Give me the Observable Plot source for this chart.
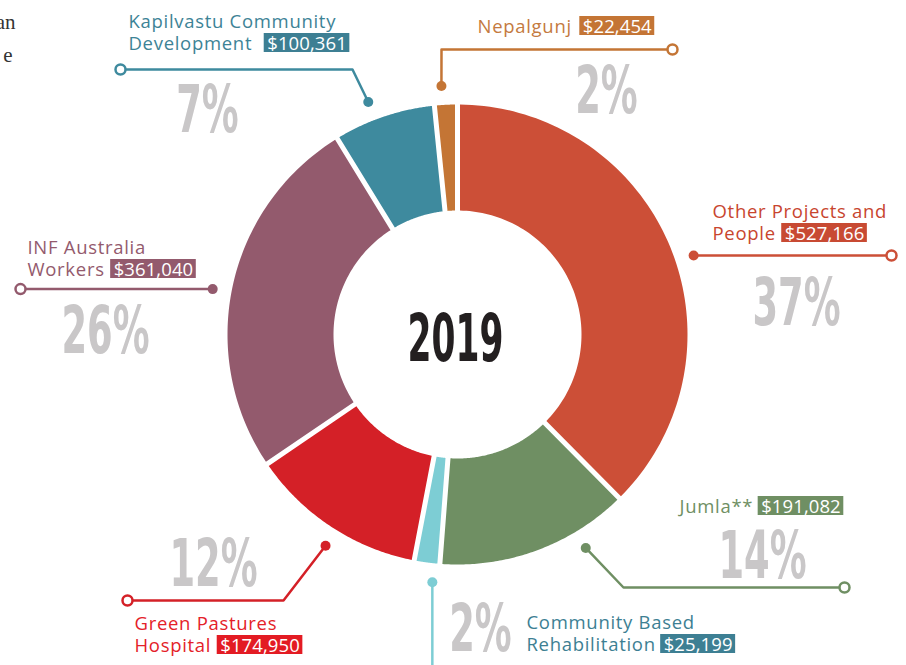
<!DOCTYPE html>
<html><head><meta charset="utf-8">
<style>
html,body{margin:0;padding:0;background:#fff;overflow:hidden;}
#chart{width:906px;height:665px;overflow:hidden;}
#chart g[font-family="Open Sans"]{letter-spacing:0.7px;}
#chart g[font-family="'Open Sans'"]{letter-spacing:0.1px;}
</style>
<script src="https://cdn.jsdelivr.net/npm/d3@7"></script>
<script src="https://cdn.jsdelivr.net/npm/@observablehq/plot@0.6"></script>
</head><body><div id="chart"></div>
<script>
// ---- data ----
const categories = ["Other Projects and People","Jumla**","Community Based Rehabilitation","Green Pastures Hospital","INF Australia Workers","Kapilvastu Community Development","Nepalgunj"];
const amounts = [527166,191082,25199,174950,361040,100361,22454];
const percentLabels = ["37%","14%","2%","12%","26%","7%","2%"];
const labelLines = [["Other Projects and","People"],["Jumla**"],["Community Based","Rehabilitation"],["Green Pastures","Hospital"],["INF Australia","Workers"],["Kapilvastu Community","Development"],["Nepalgunj"]];
const centerTitle = "2019";
const cropText = ["an","e"];

// ---- styles ----
const sliceColors = ["#cc4f37","#6f8f63","#7dcdd4","#d42027","#935a6d","#3e8a9e","#c47535"];
const labelColors = ["#c8452e","#6f8f63","#3d7f93","#e42128","#935a6d","#3d8396","#c47a40"];
const boxColors   = ["#c84a33","#6f8f63","#3d7f93","#e31b23","#935a6d","#3d7f93","#c47535"];

// ---- layout ----
const W=906, H=665, CX=457, CY=334, R_OUT=230, R_IN=124, GAP=5, DOT_R=249;
const FS=18.5, LS=0.7, LSV=0.1, LH=22;
const layout = [
 {lx:712, ly:217, px:796, py:324, dotAngle:71.5,  via:[],         end:[891,null], gap:9},
 {lx:679, ly:512, px:762, py:577, dotAngle:149,   via:[[623,587]], end:[844,587], gap:8},
 {lx:526, ly:628, px:480, py:650, dotAngle:185.8, via:[],         end:[null,720], gap:8, extra:[708,671]},
 {lx:134, ly:629, px:213, py:585, dotAngle:212,   via:[[283,600]], end:[127,600], gap:9},
 {lx:27,  ly:253, px:105, py:352, dotAngle:280.5, via:[],         end:[20,null],  gap:9},
 {lx:128, ly:27,  px:207, py:131, dotAngle:339,   via:[[352,69]],  end:[120,69],  gap:15},
 {lx:477, ly:32,  px:606, py:112, dotAngle:356.3, via:[[441,49]],  end:[672,49],  gap:11},
];

// ---- derived geometry ----
const total = d3.sum(amounts);
const rad = d => d*Math.PI/180;
const polar = (a, r) => ({x: CX + r*Math.sin(a), y: CY - r*Math.cos(a)});
const slicePts = [];
let acc = 0;
categories.forEach((name,i) => {
  const a0 = acc/total*2*Math.PI; acc += amounts[i]; const a1 = acc/total*2*Math.PI;
  const dO = Math.asin(GAP/2/R_OUT), dI = Math.asin(GAP/2/R_IN), N = 90;
  for (let k=0;k<=N;k++){ const a = a0+dO + (a1-a0-2*dO)*k/N; slicePts.push({name, ...polar(a,R_OUT)}); }
  for (let k=N;k>=0;k--){ const a = a0+dI + (a1-a0-2*dI)*k/N; slicePts.push({name, ...polar(a,R_IN)}); }
});

const leaderPts = [], dotPts = [], endPts = [];
categories.forEach((name,i) => {
  const L = layout[i];
  const d = polar(rad(L.dotAngle), DOT_R);
  dotPts.push({name, ...d});
  leaderPts.push({name, ...d});
  L.via.forEach(p => leaderPts.push({name, x:p[0], y:p[1]}));
  const last = leaderPts[leaderPts.length-1];
  const e = {name, x: L.end[0] ?? last.x, y: L.end[1] ?? last.y};
  leaderPts.push(e);
  if (e.y < H) endPts.push(e);
  if (L.extra) endPts.push({name, x:L.extra[0], y:L.extra[1]});
});

const ctx = document.createElement("canvas").getContext("2d");
ctx.font = `${FS}px "Open Sans"`;
const tw = (s, ls) => ctx.measureText(s).width + ls*s.length;
const fmt = d3.format("$,");

const lineText = [], boxes = [], valueText = [];
categories.forEach((name,i) => {
  const L = layout[i], lines = labelLines[i];
  lines.forEach((t,j) => lineText.push({t, x:L.lx, y:L.ly + j*LH, c:labelColors[i]}));
  const by = L.ly + (lines.length-1)*LH;
  const vx = L.lx + tw(lines[lines.length-1], LS) + L.gap;
  const v = fmt(amounts[i]);
  valueText.push({t:v, x:vx, y:by});
  boxes.push({x1:vx-3, x2:vx+tw(v, LSV)+3, y1:by-16, y2:by+3, c:boxColors[i]});
});
const pctText = percentLabels.map((t,i) => ({t, x:layout[i].px, y:layout[i].py}));

const chart = Plot.plot({
  width: W, height: H, margin: 0,
  x: {domain:[0,W], range:[0,W], axis:null},
  y: {domain:[0,H], range:[0,H], axis:null},
  color: {domain: categories, range: sliceColors},
  marks: [
    Plot.line(slicePts, {x:"x", y:"y", z:"name", fill:"name", stroke:"none", curve:"linear-closed"}),
    Plot.line(leaderPts, {x:"x", y:"y", z:"name", stroke:"name", strokeWidth:2.5}),
    Plot.dot(dotPts, {x:"x", y:"y", r:5, fill:"name", stroke:"none"}),
    Plot.dot(endPts, {x:"x", y:"y", r:5, fill:"white", stroke:"name", strokeWidth:2.5}),
    Plot.text(pctText, {x:"x", y:"y", text:"t", fontFamily:"DejaVu Sans Condensed", fontWeight:"bold", fontSize:66, fill:"#c9c7c8", textAnchor:"middle", lineAnchor:"bottom"}),
    Plot.text([{t:centerTitle, x:CX-2, y:360}], {x:"x", y:"y", text:"t", fontFamily:"DejaVu Sans Condensed", fontWeight:"bold", fontSize:66, fill:"#231f20", textAnchor:"middle", lineAnchor:"bottom"}),
    Plot.rect(boxes, {x1:"x1", x2:"x2", y1:"y1", y2:"y2", fill:d=>d.c}),
    Plot.text(lineText, {x:"x", y:"y", text:"t", fill:d=>d.c, fontFamily:"Open Sans", fontSize:FS, textAnchor:"start", lineAnchor:"bottom"}),
    Plot.text(valueText, {x:"x", y:"y", text:"t", fill:"white", fontFamily:"'Open Sans'", fontSize:FS, textAnchor:"start", lineAnchor:"bottom"}),
    Plot.text([{t:cropText[0], x:15, y:28},{t:cropText[1], x:12, y:61}], {x:"x", y:"y", text:"t", fill:"#333", fontFamily:"Liberation Serif", fontSize:21, textAnchor:"end", lineAnchor:"bottom"})
  ]
});
document.getElementById("chart").appendChild(chart);

// condense the big numerals horizontally
chart.querySelectorAll("text").forEach(t => {
  const s = t.textContent;
  let k = null;
  if (/%$/.test(s)) k = 0.62; else if (s === centerTitle) k = 0.58;
  if (k == null) return;
  const tr = t.getAttribute("transform");
  if (tr) t.setAttribute("transform", tr + ` scale(${k},1)`);
  else {
    const x = +t.getAttribute("x") || 0, y = +t.getAttribute("y") || 0;
    t.setAttribute("transform", `translate(${x},${y}) scale(${k},1) translate(${-x},${-y})`);
  }
});
</script>
</body></html>
